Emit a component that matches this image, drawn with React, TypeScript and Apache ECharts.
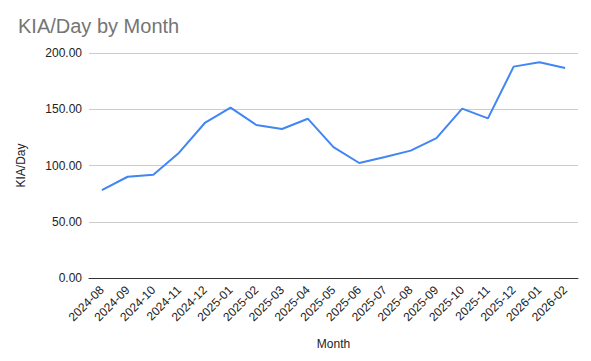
import React, { useEffect, useRef } from "react";
import * as echarts from "echarts";

const months = [
  "2024-08", "2024-09", "2024-10", "2024-11", "2024-12", "2025-01", "2025-02",
  "2025-03", "2025-04", "2025-05", "2025-06", "2025-07", "2025-08", "2025-09",
  "2025-10", "2025-11", "2025-12", "2026-01", "2026-02",
];
const kiaPerDay = [
  78.2, 90.0, 91.8, 111.4, 137.8, 151.4, 136.0, 132.4, 141.6, 116.4, 102.2,
  107.5, 113.2, 124.4, 150.5, 141.9, 187.9, 191.7, 186.7,
];
const yTicks = { min: 0, max: 200, interval: 50 };

export default function App() {
  const ref = useRef<HTMLDivElement>(null);
  useEffect(() => {
    if (!ref.current) return;
    const chart = echarts.init(ref.current, null, { renderer: "svg" });
    chart.setOption({
      animation: false,
      backgroundColor: "#ffffff",
      textStyle: { fontFamily: "Liberation Sans, Arial, sans-serif" },
      title: {
        text: "KIA/Day by Month",
        left: 13,
        top: 11,
        textStyle: { fontSize: 20, fontWeight: "normal", color: "#757575", fontFamily: "Liberation Sans, Arial, sans-serif" },
      },
      grid: { left: 89, right: 13, top: 53, bottom: 83, containLabel: false },
      xAxis: {
        type: "category",
        data: months,
        boundaryGap: true,
        name: "Month",
        nameLocation: "middle",
        nameGap: 60,
        nameTextStyle: { fontSize: 12, color: "#222" },
        axisLine: { lineStyle: { color: "#333", width: 1 } },
        axisTick: { show: false },
        axisLabel: { rotate: 45, fontSize: 12, color: "#222", interval: 0, margin: 10 },
      },
      yAxis: {
        type: "value",
        min: yTicks.min,
        max: yTicks.max,
        interval: yTicks.interval,
        name: "KIA/Day",
        nameLocation: "middle",
        nameGap: 62,
        nameTextStyle: { fontSize: 12, color: "#222" },
        axisLine: { show: false },
        axisTick: { show: false },
        axisLabel: { fontSize: 12, color: "#222", formatter: (v: number) => v.toFixed(2), margin: 7 },
        splitLine: { lineStyle: { color: "#cccccc", width: 1 } },
      },
      series: [
        {
          type: "line",
          data: kiaPerDay,
          showSymbol: false,
          lineStyle: { color: "#4285F4", width: 2 },
          itemStyle: { color: "#4285F4" },
        },
      ],
    });
    return () => chart.dispose();
  }, []);
  return <div ref={ref} style={{ width: 591, height: 361, position: "absolute", left: 0, top: 0 }} />;
}
